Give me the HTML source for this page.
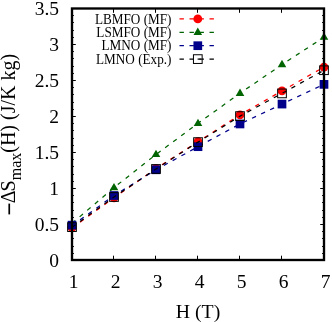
<!DOCTYPE html><html><head><meta charset="utf-8"><style>html,body{margin:0;padding:0;background:#fff}svg{display:block;will-change:transform}text{font-family:"Liberation Serif",serif;fill:#000}</style></head><body>
<svg width="332" height="322" viewBox="0 0 332 322">
<rect width="332" height="322" fill="#fff"/>
<path d="M72.0,260.50h3.8M324.0,260.50h-3.8M72.0,253.50h1.9M324.0,253.50h-1.9M72.0,246.50h1.9M324.0,246.50h-1.9M72.0,238.50h1.9M324.0,238.50h-1.9M72.0,231.50h1.9M324.0,231.50h-1.9M72.0,224.50h3.8M324.0,224.50h-3.8M72.0,217.50h1.9M324.0,217.50h-1.9M72.0,210.50h1.9M324.0,210.50h-1.9M72.0,202.50h1.9M324.0,202.50h-1.9M72.0,195.50h1.9M324.0,195.50h-1.9M72.0,188.50h3.8M324.0,188.50h-3.8M72.0,181.50h1.9M324.0,181.50h-1.9M72.0,174.50h1.9M324.0,174.50h-1.9M72.0,166.50h1.9M324.0,166.50h-1.9M72.0,159.50h1.9M324.0,159.50h-1.9M72.0,152.50h3.8M324.0,152.50h-3.8M72.0,145.50h1.9M324.0,145.50h-1.9M72.0,138.50h1.9M324.0,138.50h-1.9M72.0,130.50h1.9M324.0,130.50h-1.9M72.0,123.50h1.9M324.0,123.50h-1.9M72.0,116.50h3.8M324.0,116.50h-3.8M72.0,109.50h1.9M324.0,109.50h-1.9M72.0,102.50h1.9M324.0,102.50h-1.9M72.0,94.50h1.9M324.0,94.50h-1.9M72.0,87.50h1.9M324.0,87.50h-1.9M72.0,80.50h3.8M324.0,80.50h-3.8M72.0,73.50h1.9M324.0,73.50h-1.9M72.0,66.50h1.9M324.0,66.50h-1.9M72.0,58.50h1.9M324.0,58.50h-1.9M72.0,51.50h1.9M324.0,51.50h-1.9M72.0,44.50h3.8M324.0,44.50h-3.8M72.0,37.50h1.9M324.0,37.50h-1.9M72.0,30.50h1.9M324.0,30.50h-1.9M72.0,22.50h1.9M324.0,22.50h-1.9M72.0,15.50h1.9M324.0,15.50h-1.9M72.0,8.50h3.8M324.0,8.50h-3.8M71.50,260.0v-4.3M71.50,8.5v4.3M113.50,260.0v-4.3M113.50,8.5v4.3M155.50,260.0v-4.3M155.50,8.5v4.3M197.50,260.0v-4.3M197.50,8.5v4.3M239.50,260.0v-4.3M239.50,8.5v4.3M281.50,260.0v-4.3M281.50,8.5v4.3M323.50,260.0v-4.3M323.50,8.5v4.3" stroke="#000" stroke-width="1" fill="none"/>
<polyline points="72.00,228.02 114.00,197.77 156.00,168.60 198.00,141.72 240.00,114.78 282.00,90.92 324.00,67.06" fill="none" stroke="#ff0000" stroke-width="1.25" stroke-dasharray="4.4,5.6"/>
<circle cx="72.00" cy="227.74" r="4.4" fill="#ff0000"/>
<circle cx="114.00" cy="197.77" r="4.4" fill="#ff0000"/>
<circle cx="156.00" cy="168.60" r="4.4" fill="#ff0000"/>
<circle cx="198.00" cy="141.72" r="4.4" fill="#ff0000"/>
<circle cx="240.00" cy="114.78" r="4.4" fill="#ff0000"/>
<circle cx="282.00" cy="90.92" r="4.4" fill="#ff0000"/>
<circle cx="324.00" cy="67.06" r="4.4" fill="#ff0000"/>
<polyline points="72.00,223.35 114.00,187.60 156.00,154.51 198.00,123.33 240.00,93.29 282.00,64.55 324.00,37.24" fill="none" stroke="#006400" stroke-width="1.25" stroke-dasharray="4.4,5.6"/>
<path d="M72.00,219.87l4.3,7.3h-8.6z" fill="#006400"/>
<path d="M114.00,182.90l4.3,7.3h-8.6z" fill="#006400"/>
<path d="M156.00,149.81l4.3,7.3h-8.6z" fill="#006400"/>
<path d="M198.00,118.63l4.3,7.3h-8.6z" fill="#006400"/>
<path d="M240.00,88.59l4.3,7.3h-8.6z" fill="#006400"/>
<path d="M282.00,59.85l4.3,7.3h-8.6z" fill="#006400"/>
<path d="M324.00,32.54l4.3,7.3h-8.6z" fill="#006400"/>
<polyline points="72.00,225.72 114.00,195.51 156.00,169.78 198.00,146.68 240.00,123.97 282.00,104.07 324.00,84.38" fill="none" stroke="#00008b" stroke-width="1.25" stroke-dasharray="4.4,5.6"/>
<rect x="67.65" y="220.80" width="8.7" height="8.7" fill="#00008b"/>
<rect x="109.65" y="191.16" width="8.7" height="8.7" fill="#00008b"/>
<rect x="151.65" y="165.43" width="8.7" height="8.7" fill="#00008b"/>
<rect x="193.65" y="142.33" width="8.7" height="8.7" fill="#00008b"/>
<rect x="235.65" y="119.62" width="8.7" height="8.7" fill="#00008b"/>
<rect x="277.65" y="99.72" width="8.7" height="8.7" fill="#00008b"/>
<rect x="319.65" y="80.03" width="8.7" height="8.7" fill="#00008b"/>
<polyline points="72.00,227.31 114.00,197.02 156.00,168.96 198.00,142.11 240.00,116.10 282.00,93.40 324.00,70.23" fill="none" stroke="#000000" stroke-width="1.25" stroke-dasharray="4.4,5.6"/>
<rect x="67.65" y="222.78" width="8.7" height="8.7" fill="none" stroke="#000000" stroke-width="1.0"/>
<rect x="109.65" y="192.67" width="8.7" height="8.7" fill="none" stroke="#000000" stroke-width="1.0"/>
<rect x="151.65" y="164.61" width="8.7" height="8.7" fill="none" stroke="#000000" stroke-width="1.0"/>
<rect x="193.65" y="137.76" width="8.7" height="8.7" fill="none" stroke="#000000" stroke-width="1.0"/>
<rect x="235.65" y="111.75" width="8.7" height="8.7" fill="none" stroke="#000000" stroke-width="1.0"/>
<rect x="277.65" y="89.05" width="8.7" height="8.7" fill="none" stroke="#000000" stroke-width="1.0"/>
<rect x="319.65" y="65.88" width="8.7" height="8.7" fill="none" stroke="#000000" stroke-width="1.0"/>
<rect x="72.0" y="8.5" width="252.0" height="251.5" fill="none" stroke="#000" stroke-width="2.35"/>
<g class="t">
<text x="59" y="266.90" font-size="19.5" text-anchor="end">0</text>
<text x="59" y="230.97" font-size="19.5" text-anchor="end">0.5</text>
<text x="59" y="195.04" font-size="19.5" text-anchor="end">1</text>
<text x="59" y="159.11" font-size="19.5" text-anchor="end">1.5</text>
<text x="59" y="123.19" font-size="19.5" text-anchor="end">2</text>
<text x="59" y="87.26" font-size="19.5" text-anchor="end">2.5</text>
<text x="59" y="51.33" font-size="19.5" text-anchor="end">3</text>
<text x="59" y="15.40" font-size="19.5" text-anchor="end">3.5</text>
<text x="73.60" y="288" font-size="19.5" text-anchor="middle">1</text>
<text x="115.60" y="288" font-size="19.5" text-anchor="middle">2</text>
<text x="157.60" y="288" font-size="19.5" text-anchor="middle">3</text>
<text x="199.60" y="288" font-size="19.5" text-anchor="middle">4</text>
<text x="241.60" y="288" font-size="19.5" text-anchor="middle">5</text>
<text x="283.60" y="288" font-size="19.5" text-anchor="middle">6</text>
<text x="325.60" y="288" font-size="19.5" text-anchor="middle">7</text>
<text x="198" y="318" font-size="19.8" text-anchor="middle">H (T)</text>
<rect x="8.4" y="203.6" width="1.7" height="10.8" fill="#000"/>
<text transform="translate(15,203.3) rotate(-90)" font-size="20" text-anchor="start">Δ<tspan dx="-1">S</tspan><tspan font-size="16" dy="6">max</tspan><tspan dy="-6">(H) (J/K kg)</tspan></text>
<text transform="translate(171.5,23.50) scale(0.943,1)" font-size="14" text-anchor="end">LBMFO (MF)</text>
<path d="M179.5,18.9h36" fill="none" stroke="#ff0000" stroke-width="1.25" stroke-dasharray="4.4,5.6"/>
<circle cx="197.80" cy="18.90" r="4.4" fill="#ff0000"/>
<text transform="translate(171.5,36.90) scale(0.943,1)" font-size="14" text-anchor="end">LSMFO (MF)</text>
<path d="M179.5,32.3h36" fill="none" stroke="#006400" stroke-width="1.25" stroke-dasharray="4.4,5.6"/>
<path d="M197.80,27.60l4.3,7.3h-8.6z" fill="#006400"/>
<text transform="translate(171.5,50.30) scale(0.943,1)" font-size="14" text-anchor="end">LMNO (MF)</text>
<path d="M179.5,45.7h36" fill="none" stroke="#00008b" stroke-width="1.25" stroke-dasharray="4.4,5.6"/>
<rect x="193.45" y="41.35" width="8.7" height="8.7" fill="#00008b"/>
<text transform="translate(171.5,63.70) scale(0.943,1)" font-size="14" text-anchor="end">LMNO (Exp.)</text>
<path d="M179.5,59.1h36" fill="none" stroke="#000000" stroke-width="1.25" stroke-dasharray="4.4,5.6"/>
<path d="M197.6,59.1h3" stroke="#000" stroke-width="1.25"/>
<rect x="193.45" y="54.75" width="8.7" height="8.7" fill="none" stroke="#000000" stroke-width="1.0"/>
</g>
</svg></body></html>
